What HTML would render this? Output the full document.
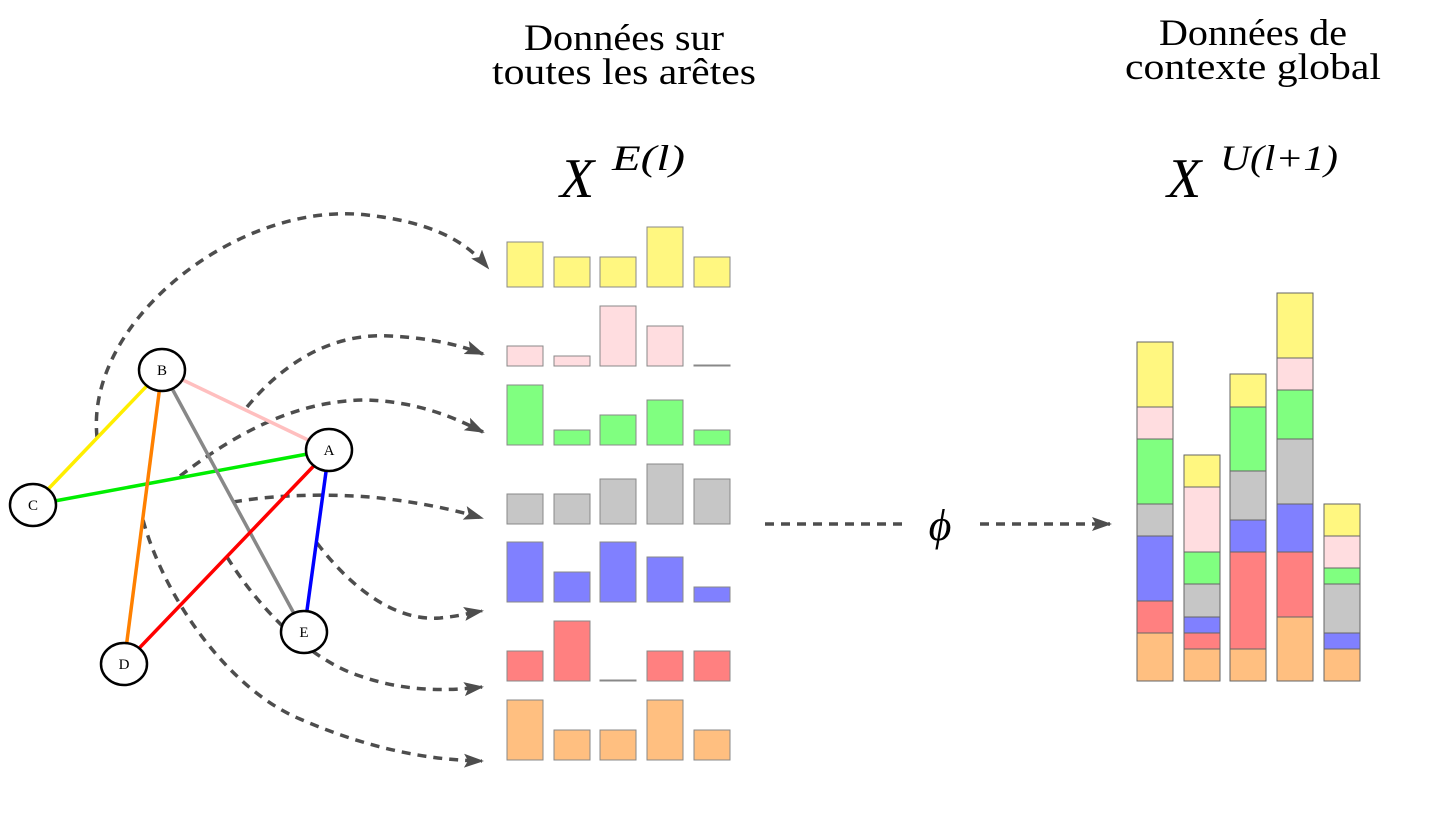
<!DOCTYPE html>
<html><head><meta charset="utf-8"><style>
body{margin:0;background:#fff}
svg{display:block}
text{font-family:"Liberation Serif",serif;fill:#000}
</style></head><body>
<svg width="1429" height="834" viewBox="0 0 1429 834" xmlns="http://www.w3.org/2000/svg">
<defs>
<marker id="ah2" markerWidth="20" markerHeight="16" refX="18" refY="8" orient="auto" markerUnits="userSpaceOnUse">
<path d="M0,1 L20,8 L0,15 L4,8 Z" fill="#4d4d4d"/>
</marker>
</defs>
<g font-size="37" text-anchor="middle">
<text x="624" y="50" textLength="200" lengthAdjust="spacingAndGlyphs">Données sur</text>
<text x="624" y="84" textLength="264" lengthAdjust="spacingAndGlyphs">toutes les arêtes</text>
<text x="1253" y="45" textLength="188" lengthAdjust="spacingAndGlyphs">Données de</text>
<text x="1253" y="79" textLength="256" lengthAdjust="spacingAndGlyphs">contexte global</text>
</g>
<text x="560" y="197" font-size="56" font-style="italic">X</text>
<text x="612" y="170" font-size="36" font-style="italic" textLength="73" lengthAdjust="spacingAndGlyphs">E(l)</text>
<text x="1167" y="197" font-size="56" font-style="italic">X</text>
<text x="1220" y="170" font-size="36" font-style="italic" textLength="118" lengthAdjust="spacingAndGlyphs">U(l+1)</text>

<!-- dashed curves -->
<g fill="none" stroke="#4d4d4d" stroke-width="3.5" stroke-dasharray="9,7" marker-end="url(#ah2)">
<path d="M97,437 C85,320 240,200 367,215 C430,222 465,240 488,268"/>
<path d="M247,407 C290,355 340,333 390,336 C430,338 460,345 483,354"/>
<path d="M180,476 C240,430 300,400 367,400 C420,402 455,418 483,432"/>
<path d="M233,502 C280,494 330,494 370,497 C420,502 455,510 482,518"/>
<path d="M317,543 C345,580 390,622 440,618 C460,616 470,613 482,611"/>
<path d="M227,557 C260,610 310,660 360,676 C400,690 440,692 482,687"/>
<path d="M143,520 C165,600 230,690 300,719 C360,745 420,760 482,761"/>
<path d="M980,524 L1110,524"/>
</g>
<line x1="765" y1="524" x2="905" y2="524" stroke="#4d4d4d" stroke-width="3.5" stroke-dasharray="9,7"/>
<text x="940" y="540" font-size="44" font-style="italic" text-anchor="middle" fill="#444">ϕ</text>

<!-- edges -->
<g stroke-width="3.5">
<line x1="33" y1="505" x2="162" y2="370" stroke="#ffee00"/>
<line x1="162" y1="370" x2="329" y2="450" stroke="#ffbfbf"/>
<line x1="33" y1="505" x2="329" y2="450" stroke="#00ee00"/>
<line x1="162" y1="370" x2="124" y2="664" stroke="#ff8000"/>
<line x1="162" y1="370" x2="304" y2="632" stroke="#888"/>
<line x1="329" y1="450" x2="124" y2="664" stroke="#ff0000"/>
<line x1="329" y1="450" x2="304" y2="632" stroke="#0000ff"/>
</g>
<g fill="#fff" stroke="#000" stroke-width="2.5">
<ellipse cx="162" cy="370" rx="23" ry="21"/>
<ellipse cx="329" cy="450" rx="23" ry="21"/>
<ellipse cx="33" cy="505" rx="23" ry="21"/>
<ellipse cx="124" cy="664" rx="23" ry="21"/>
<ellipse cx="304" cy="632" rx="23" ry="21"/>
</g>
<g font-size="15" text-anchor="middle">
<text x="162" y="375">B</text><text x="329" y="455">A</text><text x="33" y="510">C</text><text x="124" y="669">D</text><text x="304" y="637">E</text>
</g>

<!-- left bars -->
<g stroke="#888" stroke-width="1">
<g fill="#fff780">
<rect x="507" y="242" width="36" height="45"/><rect x="554" y="257" width="36" height="30"/><rect x="600" y="257" width="36" height="30"/><rect x="647" y="227" width="36" height="60"/><rect x="694" y="257" width="36" height="30"/>
</g>
<g fill="#ffdde0">
<rect x="507" y="346" width="36" height="20"/><rect x="554" y="356" width="36" height="10"/><rect x="600" y="306" width="36" height="60"/><rect x="647" y="326" width="36" height="40"/><rect x="694" y="365" width="36" height="1"/>
</g>
<g fill="#80ff80">
<rect x="507" y="385" width="36" height="60"/><rect x="554" y="430" width="36" height="15"/><rect x="600" y="415" width="36" height="30"/><rect x="647" y="400" width="36" height="45"/><rect x="694" y="430" width="36" height="15"/>
</g>
<g fill="#c6c6c6">
<rect x="507" y="494" width="36" height="30"/><rect x="554" y="494" width="36" height="30"/><rect x="600" y="479" width="36" height="45"/><rect x="647" y="464" width="36" height="60"/><rect x="694" y="479" width="36" height="45"/>
</g>
<g fill="#8080ff">
<rect x="507" y="542" width="36" height="60"/><rect x="554" y="572" width="36" height="30"/><rect x="600" y="542" width="36" height="60"/><rect x="647" y="557" width="36" height="45"/><rect x="694" y="587" width="36" height="15"/>
</g>
<g fill="#ff8080">
<rect x="507" y="651" width="36" height="30"/><rect x="554" y="621" width="36" height="60"/><rect x="600" y="680" width="36" height="1"/><rect x="647" y="651" width="36" height="30"/><rect x="694" y="651" width="36" height="30"/>
</g>
<g fill="#ffbf80">
<rect x="507" y="700" width="36" height="60"/><rect x="554" y="730" width="36" height="30"/><rect x="600" y="730" width="36" height="30"/><rect x="647" y="700" width="36" height="60"/><rect x="694" y="730" width="36" height="30"/>
</g>
</g>

<!-- stacked bars -->
<g stroke="#666" stroke-width="1">
<rect x="1137" y="633" width="36" height="48" fill="#ffbf80"/>
<rect x="1137" y="601" width="36" height="32" fill="#ff8080"/>
<rect x="1137" y="536" width="36" height="65" fill="#8080ff"/>
<rect x="1137" y="504" width="36" height="32" fill="#c6c6c6"/>
<rect x="1137" y="439" width="36" height="65" fill="#80ff80"/>
<rect x="1137" y="407" width="36" height="32" fill="#ffdde0"/>
<rect x="1137" y="342" width="36" height="65" fill="#fff780"/>
<rect x="1184" y="649" width="36" height="32" fill="#ffbf80"/>
<rect x="1184" y="633" width="36" height="16" fill="#ff8080"/>
<rect x="1184" y="617" width="36" height="16" fill="#8080ff"/>
<rect x="1184" y="584" width="36" height="33" fill="#c6c6c6"/>
<rect x="1184" y="552" width="36" height="32" fill="#80ff80"/>
<rect x="1184" y="487" width="36" height="65" fill="#ffdde0"/>
<rect x="1184" y="455" width="36" height="32" fill="#fff780"/>
<rect x="1230" y="649" width="36" height="32" fill="#ffbf80"/>
<rect x="1230" y="552" width="36" height="97" fill="#ff8080"/>
<rect x="1230" y="520" width="36" height="32" fill="#8080ff"/>
<rect x="1230" y="471" width="36" height="49" fill="#c6c6c6"/>
<rect x="1230" y="407" width="36" height="64" fill="#80ff80"/>
<rect x="1230" y="374" width="36" height="33" fill="#fff780"/>
<rect x="1277" y="617" width="36" height="64" fill="#ffbf80"/>
<rect x="1277" y="552" width="36" height="65" fill="#ff8080"/>
<rect x="1277" y="504" width="36" height="48" fill="#8080ff"/>
<rect x="1277" y="439" width="36" height="65" fill="#c6c6c6"/>
<rect x="1277" y="390" width="36" height="49" fill="#80ff80"/>
<rect x="1277" y="358" width="36" height="32" fill="#ffdde0"/>
<rect x="1277" y="293" width="36" height="65" fill="#fff780"/>
<rect x="1324" y="649" width="36" height="32" fill="#ffbf80"/>
<rect x="1324" y="633" width="36" height="16" fill="#8080ff"/>
<rect x="1324" y="584" width="36" height="49" fill="#c6c6c6"/>
<rect x="1324" y="568" width="36" height="16" fill="#80ff80"/>
<rect x="1324" y="536" width="36" height="32" fill="#ffdde0"/>
<rect x="1324" y="504" width="36" height="32" fill="#fff780"/>
</g>
</svg>
</body></html>
